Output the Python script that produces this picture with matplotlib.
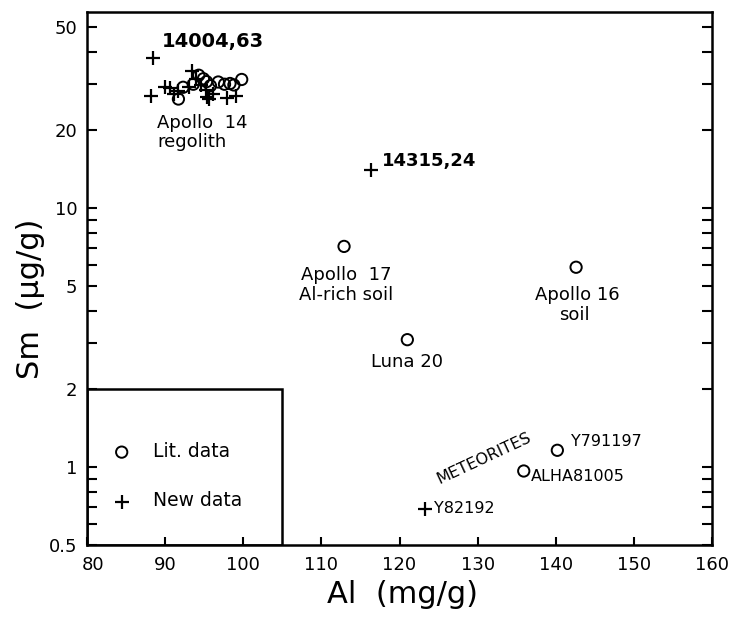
import matplotlib
matplotlib.use("Agg")
import matplotlib.pyplot as plt
from matplotlib.patches import Rectangle
from matplotlib.ticker import FixedLocator, NullFormatter
from matplotlib.transforms import ScaledTranslation

plt.rcParams['font.family'] = ['DejaVu Sans']

# Apollo 14 regolith, literature values (Al mg/g, Sm ug/g)
a14_lit_al = [91.7, 92.3, 93.6, 94.3, 94.9, 95.3, 95.8, 96.8, 97.6, 98.3, 98.8, 99.8]
a14_lit_sm = [26.3, 29.2, 30.0, 32.5, 31.5, 30.7, 29.6, 30.6, 30.0, 30.2, 29.8, 31.3]

# Apollo 14 regolith, new analyses
a14_new_al = [88.4, 88.2, 90.0, 90.6, 91.1, 91.6, 93.0, 93.5, 94.0, 95.2, 95.4, 95.6, 96.1, 97.9, 99.1, 94.6]
a14_new_sm = [38.0, 27.0, 29.4, 28.9, 27.6, 28.2, 29.4, 33.6, 31.5, 28.5, 26.9, 26.4, 27.6, 26.6, 27.1, 29.8]

# Other literature samples
lit_names = ["Apollo 17", "Apollo 16", "Luna 20", "Y791197", "ALHA81005"]
lit_al = [112.9, 142.6, 121.0, 140.2, 135.9]
lit_sm = [7.1, 5.9, 3.1, 1.16, 0.965]

# Other new samples
new_names = ["14315,24", "Y82192"]
new_al = [116.3, 123.3]
new_sm = [14.0, 0.69]

x_ticks = [80, 90, 100, 110, 120, 130, 140, 150, 160]
y_major = [0.5, 1, 2, 5, 10, 20, 50]
y_labels = ["0.5", "1", "2", "5", "10", "20", "50"]
y_minor = [0.6, 0.7, 0.8, 0.9, 3, 4, 6, 7, 8, 9, 30, 40]

fig = plt.figure(figsize=(7.33, 6.22), dpi=100)
ax = fig.add_axes([0.1187, 0.1238, 0.8527, 0.8569])
ax.set_yscale('log')
ax.set_xlim(80, 160)
ax.set_ylim(0.5, 57)

circ = dict(marker='o', s=66, facecolors='none', edgecolors='black', linewidths=1.4)
plus = dict(marker='+', s=100, c='black', linewidths=1.6)

lit_all = ax.scatter(a14_lit_al + lit_al, a14_lit_sm + lit_sm, label='Lit. data', **circ)
new_all = ax.scatter(a14_new_al + new_al, a14_new_sm + new_sm, label='New data', **plus)

# Legend panel in the lower-left corner
ax.add_patch(Rectangle((80, 0.5), 25, 1.5, fill=False, edgecolor='black', lw=1.8, zorder=3))
leg = ax.legend(handles=[lit_all, new_all], loc='center left', bbox_to_anchor=(0.0405, 0.129),
                frameon=False, fontsize=13.5, handlelength=1.0, handletextpad=1.19,
                labelspacing=1.62, borderpad=0, borderaxespad=0)

# Annotations
ax.text(89.6, 44, "14004,63", fontsize=14, fontweight='bold', ha='left', va='center')
ax.text(89.0, 21.2, "Apollo  14", fontsize=13, ha='left', va='center')
ax.text(89.0, 18.0, "regolith", fontsize=13, ha='left', va='center')
ax.text(117.8, 15.2, new_names[0], fontsize=13, fontweight='bold', ha='left', va='center')
ax.text(113.2, 5.5, "Apollo  17", fontsize=13, ha='center', va='center')
ax.text(113.2, 4.6, "Al-rich soil", fontsize=13, ha='center', va='center')
ax.text(142.8, 4.6, "Apollo 16", fontsize=13, ha='center', va='center')
ax.text(142.4, 3.85, "soil", fontsize=13, ha='center', va='center')
ax.text(121.0, 2.55, "Luna 20", fontsize=13, ha='center', va='center')
ax.text(141.9, 1.25, lit_names[3], fontsize=11.5, ha='left', va='center')
ax.text(136.8, 0.92, lit_names[4], fontsize=11.5, ha='left', va='center')
ax.text(124.4, 0.69, new_names[1], fontsize=11.5, ha='left', va='center')
ax.text(130.8, 1.08, "METEORITES", fontsize=11.5, rotation=25, ha='center', va='center')

# Axes styling
ax.xaxis.set_major_locator(FixedLocator(x_ticks))
ax.set_xticklabels([str(t) for t in x_ticks])
ax.yaxis.set_major_locator(FixedLocator(y_major))
ax.set_yticklabels(y_labels)
ax.yaxis.set_minor_locator(FixedLocator(y_minor))
ax.yaxis.set_minor_formatter(NullFormatter())
ax.xaxis.set_minor_locator(FixedLocator([]))
ax.tick_params(axis='both', which='both', direction='in', width=1.5, colors='black',
               labelsize=13)
ax.tick_params(axis='y', which='both', length=7, right=True, pad=7)
ax.tick_params(axis='x', which='both', length=6, top=False, pad=8)
for sp in ax.spines.values():
    sp.set_linewidth(1.8)

# nudge the first x label clear of the "0.5" label
first = ax.get_xticklabels()[0]
first.set_transform(first.get_transform() + ScaledTranslation(6 / 100, 0, fig.dpi_scale_trans))

fig.text(0.041, 0.52, "Sm  (µg/g)", rotation=90, fontsize=22, ha='center', va='center')
fig.text(0.549, 0.045, "Al  (mg/g)", fontsize=22, ha='center', va='center')

fig.savefig("out.png", dpi=100)
